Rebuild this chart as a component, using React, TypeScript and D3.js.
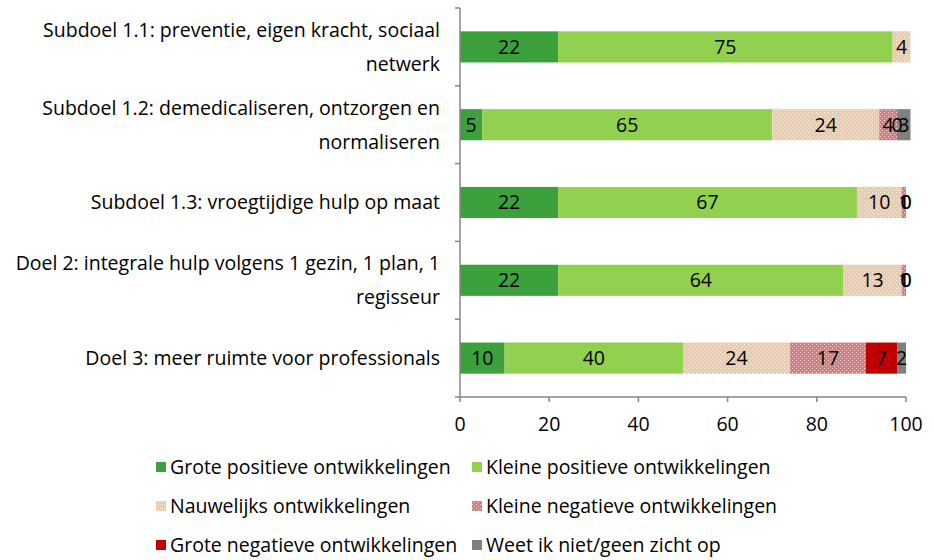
import * as d3 from 'd3';

const categories = [
    ['Subdoel 1.1: preventie, eigen kracht, sociaal', 'netwerk'],
    ['Subdoel 1.2: demedicaliseren, ontzorgen en', 'normaliseren '],
    ['Subdoel 1.3: vroegtijdige hulp op maat'],
    ['Doel 2: integrale hulp volgens 1 gezin, 1 plan, 1', 'regisseur'],
    ['Doel 3: meer ruimte voor professionals'],
];

const seriesNames = [
    'Grote positieve ontwikkelingen',
    'Kleine positieve ontwikkelingen',
    'Nauwelijks ontwikkelingen',
    'Kleine negatieve ontwikkelingen',
    'Grote negatieve ontwikkelingen',
    'Weet ik niet/geen zicht op',
];

const grotePositief = [22, 5, 22, 22, 10];
const kleinePositief = [75, 65, 67, 64, 40];
const nauwelijks = [4, 24, 10, 13, 24];
const kleineNegatief = [null, 4, 1, 1, 17];
const groteNegatief = [null, 0, 0, 0, 7];
const weetNiet = [null, 3, 0, 0, 2];

const xTicks = [0, 20, 40, 60, 80, 100];

const seriesValues = [grotePositief, kleinePositief, nauwelijks, kleineNegatief, groteNegatief, weetNiet];
const fills = ['#3ca13c', '#92d050', 'url(#patPeach)', 'url(#patPink)', '#c00000', '#808080'];

const App = () => {
    const width = 934, height = 560;
    const left = 460, right = 906, top = 8, bottom = 397;
    const font = "'Open Sans', sans-serif";
    const fs = 19.5;

    const x = d3.scaleLinear().domain([0, 100]).range([left, right]);
    const y = d3.scaleBand().domain(categories.map((c, i) => String(i))).range([top, bottom]).paddingInner(0.6).paddingOuter(0.3);
    const band = (bottom - top) / categories.length;

    const stacks = categories.map((c, i) => {
        let acc = 0;
        return seriesValues.map((vals, s) => {
            const v = vals[i];
            const start = acc;
            acc += v ?? 0;
            return { s, v, start, end: acc };
        });
    });

    const legendPos = [[156, 467], [472, 467], [156, 506], [472, 506], [156, 545], [472, 545]];

    return (
        <svg width={width} height={height} style={{ position: 'absolute', left: 0, top: 0, background: '#fff' }}>
            <defs>
                <pattern id="patPeach" width="4" height="4" patternUnits="userSpaceOnUse">
                    <rect width="4" height="4" fill="#f8c7a0" />
                    <rect x="0" y="0" width="1" height="1" fill="#fff" opacity={0.8} />
                    <rect x="2" y="2" width="1" height="1" fill="#fff" opacity={0.8} />
                </pattern>
                <pattern id="patPink" width="4" height="4" patternUnits="userSpaceOnUse">
                    <rect width="4" height="4" fill="#dc7a7e" />
                    <rect x="0" y="0" width="1" height="1" fill="#fff" opacity={0.7} />
                    <rect x="2" y="2" width="1" height="1" fill="#fff" opacity={0.7} />
                </pattern>
            </defs>

            {stacks.map((row, i) => (
                <g key={i}>
                    {row.map((d) => d.v !== null && d.v > 0 && (
                        <rect key={d.s} x={x(d.start)} y={y(String(i))} width={x(d.end) - x(d.start)} height={y.bandwidth()} fill={fills[d.s]} />
                    ))}
                    {row.map((d) => d.v !== null && (
                        <text key={'t' + d.s} x={x((d.start + d.end) / 2)} y={y(String(i))! + y.bandwidth() / 2} dy="0.35em"
                            textAnchor="middle" fontFamily={font} fontSize={fs} fill="#000">{d.v}</text>
                    ))}
                </g>
            ))}

            {/* y axis */}
            <line x1={left} x2={left} y1={top} y2={bottom} stroke="#868686" strokeWidth={1.5} />
            {d3.range(categories.length + 1).map((k) => (
                <line key={k} x1={left - 5} x2={left} y1={top + k * band} y2={top + k * band} stroke="#868686" strokeWidth={1.5} />
            ))}
            {categories.map((lines, i) => {
                const cy = top + band * (i + 0.5);
                const lh = 34;
                return (
                    <text key={i} x={440} textAnchor="end" fontFamily={font} fontSize={fs} fill="#000">
                        {lines.map((l, j) => (
                            <tspan key={j} x={440} y={cy + (j - (lines.length - 1) / 2) * lh} dy="0.35em">{l}</tspan>
                        ))}
                    </text>
                );
            })}

            {/* x axis */}
            <line x1={left} x2={right} y1={bottom} y2={bottom} stroke="#868686" strokeWidth={1.5} />
            {xTicks.map((t) => (
                <g key={t}>
                    <line x1={x(t)} x2={x(t)} y1={bottom} y2={bottom + 5} stroke="#868686" strokeWidth={1.5} />
                    <text x={x(t)} y={424} dy="0.35em" textAnchor="middle" fontFamily={font} fontSize={fs} fill="#000">{t}</text>
                </g>
            ))}

            {/* legend */}
            {seriesNames.map((name, s) => (
                <g key={s}>
                    <rect x={legendPos[s][0]} y={legendPos[s][1] - 5} width={10} height={10} fill={fills[s]} />
                    <text x={legendPos[s][0] + 14} y={legendPos[s][1]} dy="0.35em" fontFamily={font} fontSize={fs} fill="#000">{name}</text>
                </g>
            ))}
        </svg>
    );
};

export default App;
